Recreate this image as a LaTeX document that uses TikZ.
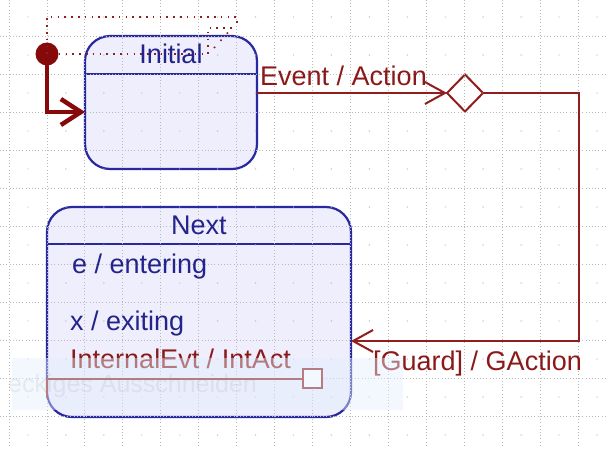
\documentclass[tikz,border=0pt]{standalone}
\usepackage{fontspec}
\setmainfont{Liberation Sans}
\usetikzlibrary{arrows.meta,shapes.geometric}

\definecolor{statefill}{RGB}{238,238,252}
\definecolor{stateline}{RGB}{40,40,160}
\definecolor{bluetext}{RGB}{35,35,140}
\definecolor{redline}{RGB}{145,30,30}
\definecolor{redtext}{RGB}{140,25,25}
\definecolor{initdot}{RGB}{135,10,10}
\definecolor{gridgray}{RGB}{185,185,185}
\definecolor{tipband}{RGB}{228,240,252}

\tikzset{
  statebox/.style={draw=stateline, fill=statefill, line width=2.2pt,
    rounded corners=25pt, inner sep=0pt, outer sep=0pt},
  divider/.style={draw=stateline, line width=2.2pt},
  gridline/.style={draw=gridgray, line width=0.8pt, dash pattern=on 0.8pt off 2.4pt},
  trans/.style={draw=redline, line width=2pt},
  transarrow/.style={trans, -{Straight Barb[length=20pt,width=22pt,line width=2pt]}},
  selline/.style={draw=redline, line width=1.6pt, dash pattern=on 1.6pt off 5.2pt},
  bluelabel/.style={text=bluetext, inner sep=0pt, font=\fontsize{27}{32}\selectfont},
  redlabel/.style={text=redtext, inner sep=0pt, font=\fontsize{27}{32}\selectfont},
}

\begin{document}
\begin{tikzpicture}[x=1pt,y=-1pt]
\useasboundingbox (0,0) rectangle (606,448);
\fill[white] (0,0) rectangle (606,448);

% states and choice point
\node[statebox, minimum width=172pt, minimum height=133pt] (Initial) at (171,102.5) {};
\node[statebox, minimum width=304pt, minimum height=210pt] (Next) at (199,312) {};
\node[diamond, draw=redline, fill=white, line width=2pt, inner sep=0pt,
      minimum width=36pt, minimum height=37pt, outer sep=0pt] (choice) at (465,93) {};

% compartment separators
\draw[divider] (Initial.west |- 0,74) -- (Initial.east |- 0,74);
\draw[divider] (Next.west |- 0,244) -- (Next.east |- 0,244);

% background grid
\foreach \i in {0,...,15}
  \draw[gridline] (9+37.93*\i,0) -- (9+37.93*\i,448);
\foreach \j in {1,...,11}
  \draw[gridline] (0,-2+38*\j) -- (606,-2+38*\j);
\foreach \i in {0,...,15}
  \foreach \j in {0,...,11}
    \fill[gridgray] (28+37.93*\i,17+38*\j) circle (0.7pt);

% initial pseudostate
\node[circle, fill=initdot, minimum size=23pt, inner sep=0pt] (init) at (47,54) {};
\coordinate (ientry) at (85,112);
\draw[draw=initdot, line width=4.5pt,
      -{Straight Barb[length=20pt,width=26pt,line width=4.5pt]}]
  (init.center) |- (Initial.west |- ientry);

% selection marks
\draw[selline] (init.center) -- (47,17) -- (237,17) -- (237,27);
\draw[selline] (init.east) -- (208,54) -- (208,28) -- (233,28);
\draw[selline, dash pattern=on 1.6pt off 8pt] (214,48) -- (232,28);

% transitions
\draw[transarrow] (Initial.east |- choice) -- (choice.west);
\coordinate (gturn) at (579,341);
\draw[transarrow] (choice.east) -| (gturn) -- (Next.east |- gturn);

% internal transition
\node[draw=redline, fill=white, line width=2pt, minimum size=19pt, inner sep=0pt,
      outer sep=0pt] (ibox) at (312.5,378.5) {};
\coordinate (ileft) at (Next.west |- 0,398);
\draw[trans] (ileft) |- (ibox.west);

% texts
\node[bluelabel, anchor=base] (tInitial) at (171,63) {Initial};
\node[bluelabel, anchor=base] (tNext) at (199,234) {Next};
\node[bluelabel, anchor=base west] (tEntry) at (72,273) {e / entering};
\node[bluelabel, anchor=base west] (tExit) at (70,330) {x / exiting};
\node[redlabel, anchor=base west] (tInt) at (70,368) {InternalEvt / IntAct};
\node[redlabel, anchor=base west] (tEvent) at (260,85) {Event / Action};
\node[redlabel, anchor=base west] (tGuard) at (373,370) {[Guard] / GAction};

% translucent tooltip band
\fill[tipband, opacity=0.45] (12,358) rectangle (403,410);
\node[text=gray, opacity=0.12, inner sep=0pt, anchor=base west,
      font=\fontsize{25}{30}\selectfont] (tTip) at (8,392) {eckiges Ausschneiden};
\end{tikzpicture}
\end{document}
